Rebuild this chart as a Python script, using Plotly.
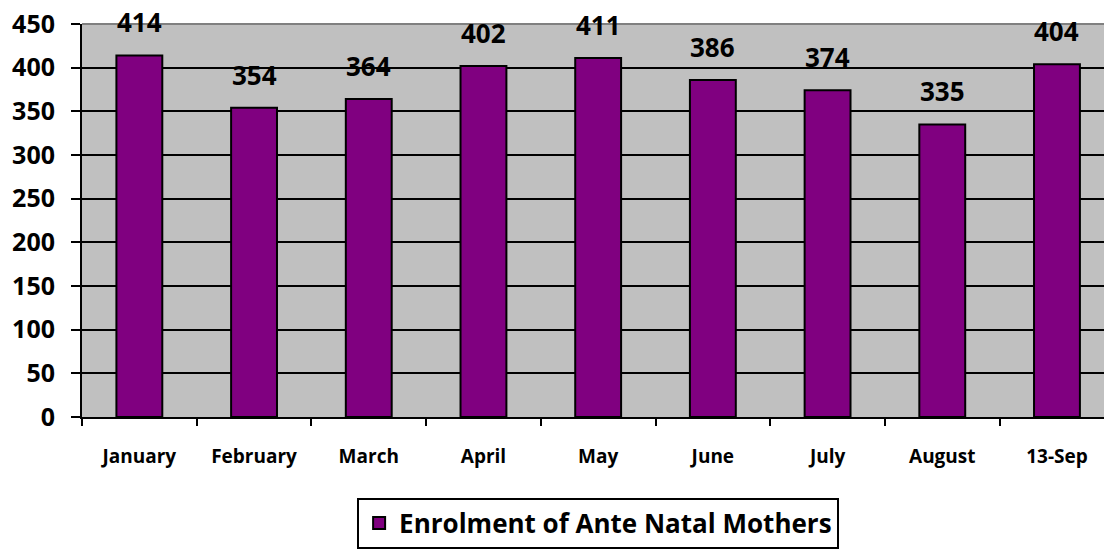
import plotly.graph_objects as go

months = ["January", "February", "March", "April", "May", "June", "July", "August", "13-Sep"]
enrolment = [414, 354, 364, 402, 411, 386, 374, 335, 404]
series_name = "Enrolment of Ante Natal Mothers"
y_ticks = list(range(0, 451, 50))

FONT = "Open Sans"

fig = go.Figure()
fig.add_trace(go.Bar(
    x=months, y=enrolment, name=series_name,
    width=0.4,
    marker=dict(color="#800080", line=dict(color="black", width=2)),
    showlegend=True,
))

for m, v in zip(months, enrolment):
    fig.add_annotation(
        x=m, y=v, text=str(v), showarrow=False,
        yanchor="bottom", yshift=13,
        font=dict(family=FONT, size=26, color="black", weight="bold"),
    )

fig.update_layout(
    width=1104, height=550,
    margin=dict(l=82, r=0, t=24, b=133),
    paper_bgcolor="white", plot_bgcolor="#C0C0C0",
    font=dict(family=FONT, color="black"),
    bargap=0.6,
    showlegend=True,
    legend=dict(
        x=0.505, xanchor="center", y=-0.205, yanchor="top",
        bgcolor="white", bordercolor="black", borderwidth=2,
        font=dict(family=FONT, size=26, color="black", weight="bold"),
        orientation="h",
    ),
    xaxis=dict(
        type="category", range=[-0.5, 8.41], automargin=False,
        tickson="boundaries", ticks="outside", ticklen=7, tickwidth=2, tickcolor="black",
        showline=True, linecolor="black", linewidth=2,
        showgrid=False,
        tickfont=dict(family=FONT, size=19, color="black", weight="bold"),
        ticklabelstandoff=21,
    ),
    yaxis=dict(
        range=[0, 450], tickvals=y_ticks, automargin=False,
        ticklabeloverflow="allow",
        ticks="outside", ticklen=9, tickwidth=2, tickcolor="black",
        showline=True, linecolor="black", linewidth=2,
        showgrid=True, gridcolor="black", gridwidth=2,
        zeroline=False,
        tickfont=dict(family=FONT, size=25, color="black", weight="bold"),
        ticklabelstandoff=11,
    ),
    shapes=[dict(type="line", xref="paper", yref="paper", x0=0, x1=1, y0=1, y1=1,
                 line=dict(color="#808080", width=2))],
)

fig.write_html("out.html", config={"displayModeBar": False},
               post_script="document.body.style.margin='0';")
